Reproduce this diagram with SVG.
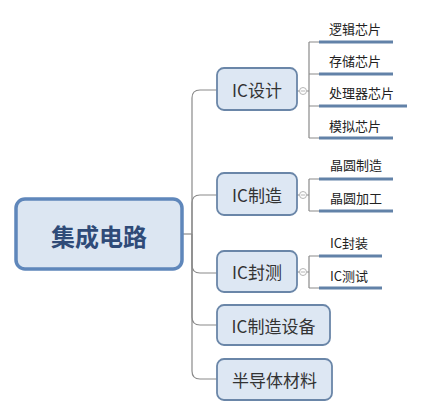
<svg xmlns="http://www.w3.org/2000/svg" width="423" height="415" viewBox="0 0 423 415">
<style>
.sub rect{fill:#dde7f3;stroke:#6a86a8;stroke-width:1.8}
.sub text{font-family:"Noto Sans CJK SC","Liberation Sans",sans-serif;font-size:17px;fill:#333;text-anchor:middle;dominant-baseline:central}
.leaf text{font-family:"Noto Sans CJK SC","Liberation Sans",sans-serif;font-size:13px;fill:#222}
.leaf line{stroke:#6282a8;stroke-width:3}
.conn path{fill:none;stroke:#8a8a8a;stroke-width:1.2}
.tog circle{fill:#fff;stroke:#b5b5b5;stroke-width:1}
.tog line{stroke:#b5b5b5;stroke-width:1}
</style>
<rect width="423" height="415" fill="#fff"/>
<g id="connectors" class="conn">
<path d="M183,234 H192"/>
<path d="M192,234 V98 Q192,90 200,90 H217"/>
<path d="M192,234 V203 Q192,195 200,195 H217"/>
<path d="M192,234 V265 Q192,273 200,273 H217"/>
<path d="M192,234 V317 Q192,325 200,325 H217"/>
<path d="M192,234 V371 Q192,379 200,379 H217"/>
<path d="M297,91 H299.5 M306.5,91 H309 M309,42 V138 M309,42 H319 M309,74 H319 M309,106 H319 M309,138 H319"/>
<path d="M297,195 H299.5 M306.5,195 H309 M309,179 V211 M309,179 H319 M309,211 H319"/>
<path d="M297,272 H299.5 M306.5,272 H309 M309,256 V288 M309,256 H319 M309,288 H319"/>
</g>
<g class="tog">
<circle cx="303" cy="91" r="3.5"/><line x1="301" y1="91" x2="305" y2="91"/>
<circle cx="303" cy="195" r="3.5"/><line x1="301" y1="195" x2="305" y2="195"/>
<circle cx="303" cy="272" r="3.5"/><line x1="301" y1="272" x2="305" y2="272"/>
</g>
<g id="main">
<rect x="16" y="199" width="166" height="70" rx="9" fill="#dce6f2" stroke="#5f87bb" stroke-width="3.5"/>
<text x="99" y="235" font-family="Noto Sans CJK SC,sans-serif" font-size="24" font-weight="bold" fill="#2f4b78" text-anchor="middle" dominant-baseline="central">集成电路</text>
</g>
<g id="ic-design" class="sub"><rect x="217" y="68" width="80" height="42" rx="7"/><text x="257" y="89">IC设计</text></g>
<g id="ic-manufacture" class="sub"><rect x="217" y="173" width="80" height="42" rx="7"/><text x="257" y="194">IC制造</text></g>
<g id="ic-test" class="sub"><rect x="217" y="251" width="80" height="41" rx="7"/><text x="257" y="271">IC封测</text></g>
<g id="ic-equipment" class="sub"><rect x="217" y="305" width="113" height="40" rx="7"/><text x="273.5" y="325">IC制造设备</text></g>
<g id="semi-material" class="sub"><rect x="217" y="359" width="115" height="41" rx="7"/><text x="274.5" y="379">半导体材料</text></g>
<g id="leaf-logic" class="leaf"><text x="329" y="34">逻辑芯片</text><line x1="319" y1="42" x2="393" y2="42"/></g>
<g id="leaf-memory" class="leaf"><text x="329" y="66">存储芯片</text><line x1="319" y1="74" x2="393" y2="74"/></g>
<g id="leaf-processor" class="leaf"><text x="329" y="98">处理器芯片</text><line x1="319" y1="106" x2="407" y2="106"/></g>
<g id="leaf-analog" class="leaf"><text x="329" y="131">模拟芯片</text><line x1="319" y1="138" x2="393" y2="138"/></g>
<g id="leaf-wafer-make" class="leaf"><text x="330" y="170">晶圆制造</text><line x1="319" y1="179" x2="393" y2="179"/></g>
<g id="leaf-wafer-proc" class="leaf"><text x="330" y="203">晶圆加工</text><line x1="319" y1="211" x2="393" y2="211"/></g>
<g id="leaf-package" class="leaf"><text x="330" y="248">IC封装</text><line x1="319" y1="256" x2="382" y2="256"/></g>
<g id="leaf-testing" class="leaf"><text x="330" y="281">IC测试</text><line x1="319" y1="288" x2="382" y2="288"/></g>
</svg>
